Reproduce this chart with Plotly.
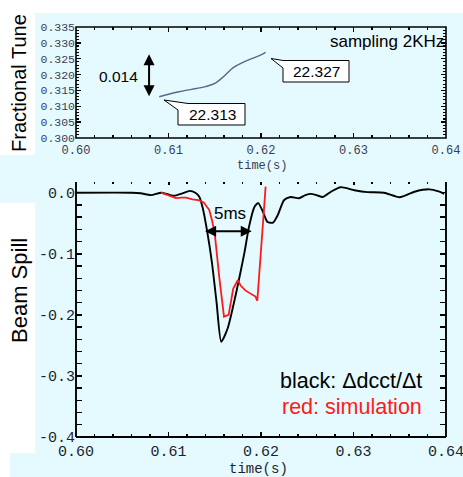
import plotly.graph_objects as go

# ---------------- data ----------------
tune_t = [0.6090, 0.6100, 0.6110, 0.6120, 0.6130, 0.6140, 0.6150, 0.6160,
          0.6170, 0.6180, 0.6190, 0.6200, 0.6205]
tune_v = [0.3130, 0.3138, 0.3145, 0.3151, 0.3156, 0.3162, 0.3172, 0.3195,
          0.3222, 0.3238, 0.3250, 0.3262, 0.3270]

spill_t = [0.6000, 0.6060, 0.6070, 0.6081, 0.6092, 0.6100, 0.6106, 0.6115,
           0.6123, 0.6129, 0.6133, 0.6137, 0.6142, 0.6147, 0.6152, 0.6157,
           0.6164, 0.6173, 0.6182, 0.6187, 0.6193, 0.6197, 0.6202, 0.6207,
           0.6213, 0.6218, 0.6225, 0.6232, 0.6241, 0.6248, 0.6254, 0.6260,
           0.6267, 0.6276, 0.6286, 0.6301, 0.6315, 0.6333, 0.6350, 0.6366,
           0.6382, 0.6392, 0.6398]
spill_v = [0.000, 0.000, -0.001, -0.004, 0.000, -0.003, -0.005, -0.001,
           0.003, 0.000, -0.006, -0.025, -0.065, -0.115, -0.180, -0.244,
           -0.222, -0.165, -0.099, -0.056, -0.023, -0.017, -0.031, -0.048,
           -0.049, -0.037, -0.012, -0.007, -0.009, -0.004, -0.002, -0.004,
           -0.007, 0.002, 0.009, 0.004, 0.001, 0.000, -0.0075, 0.0016,
           0.0055, 0.002, -0.002]

sim_t = [0.6092, 0.6100, 0.6108, 0.6114, 0.6119, 0.6126, 0.6132, 0.6138,
         0.6144, 0.6147, 0.6150, 0.6155, 0.6160, 0.6165, 0.6170, 0.6175,
         0.6178, 0.6183, 0.6189, 0.6194, 0.6196, 0.6200, 0.6205]
sim_v = [0.000, -0.004, -0.009, -0.008, -0.008, -0.011, -0.012, -0.016,
         -0.028, -0.045, -0.067, -0.140, -0.203, -0.200, -0.157, -0.143,
         -0.152, -0.160, -0.165, -0.170, -0.177, -0.090, 0.010]

x_ticks = [0.60, 0.61, 0.62, 0.63, 0.64]
x_ticklabels = ["0.60", "0.61", "0.62", "0.63", "0.64"]
tune_ticks = [0.300, 0.305, 0.310, 0.315, 0.320, 0.325, 0.330, 0.335]
tune_ticklabels = ["0.300", "0.305", "0.310", "0.315", "0.320", "0.325", "0.330", "0.335"]
spill_ticks = [0.0, -0.1, -0.2, -0.3, -0.4]
spill_ticklabels = ["0.0", "-0.1", "-0.2", "-0.3", "-0.4"]

tune_start_label = "22.313"
tune_end_label = "22.327"

# ---------------- layout helpers ----------------
W, H = 463, 477


def px(x):
    return x / W


def py(y):
    return 1 - y / H


CYAN = "#e4fafe"
MONO = "Liberation Mono, Courier New, monospace"
SANS = "Liberation Sans, Arial, sans-serif"

fig = go.Figure()

fig.add_trace(go.Scatter(x=tune_t, y=tune_v, mode="lines", xaxis="x", yaxis="y",
                         line=dict(color="#5a6688", width=1.4, shape="spline"),
                         hoverinfo="skip", showlegend=False))
fig.add_trace(go.Scatter(x=spill_t, y=spill_v, mode="lines", xaxis="x2", yaxis="y2",
                         line=dict(color="black", width=1.9, shape="spline", smoothing=0.6),
                         hoverinfo="skip", showlegend=False))
fig.add_trace(go.Scatter(x=sim_t, y=sim_v, mode="lines", xaxis="x2", yaxis="y2",
                         line=dict(color="#ff1a1a", width=1.8),
                         hoverinfo="skip", showlegend=False))
# carrier for top-edge ticks of lower panel
fig.add_trace(go.Scatter(x=[0.60], y=[-1], mode="markers", xaxis="x3", yaxis="y2",
                         marker=dict(size=0.1, color="rgba(0,0,0,0)"),
                         hoverinfo="skip", showlegend=False))

xdom = [px(76), px(446)]

common_x = dict(domain=xdom, range=[0.60, 0.64], tickvals=x_ticks, ticktext=x_ticklabels,
                ticks="inside", tickcolor="black", tickwidth=1.4, ticklen=5,
                showline=False, showgrid=False, automargin=False,
                ticklabeloverflow="allow", ticklabelstandoff=3,
                zeroline=False, fixedrange=True)

fig.update_layout(
    width=W, height=H,
    margin=dict(l=0, r=0, t=0, b=0, pad=0, autoexpand=False),
    paper_bgcolor="white", plot_bgcolor="rgba(0,0,0,0)",
    xaxis=dict(**common_x, anchor="y", mirror="allticks",
               tickfont=dict(family=MONO, size=12, color="#3a3d55"),
               minor=dict(dtick=0.002, ticks="inside", ticklen=3, tickcolor="black",
                          tickwidth=1.2, showgrid=False)),
    yaxis=dict(domain=[py(138), py(27)], range=[0.300, 0.335], anchor="x",
               tickvals=tune_ticks, ticktext=tune_ticklabels,
               ticks="inside", tickcolor="black", tickwidth=1.4, ticklen=5,
               showline=False, mirror="allticks", automargin=False,
               ticklabeloverflow="allow",
               showgrid=False, zeroline=False, fixedrange=True,
               tickfont=dict(family=MONO, size=11.5, color="#3a3d55"),
               minor=dict(dtick=0.001, ticks="inside", ticklen=3, tickcolor="black",
                          tickwidth=1.1, showgrid=False)),
    xaxis2=dict(**common_x, anchor="y2", mirror=False,
                tickfont=dict(family=MONO, size=15, color="#1e1e30"),
                minor=dict(dtick=0.002, ticks="inside", ticklen=3, tickcolor="black",
                           tickwidth=1.2, showgrid=False)),
    xaxis3=dict(domain=xdom, range=[0.60, 0.64], overlaying="x2", side="top",
                anchor="y2", tickvals=x_ticks, ticks="inside", ticklen=3,
                tickwidth=2, tickcolor="black", showticklabels=False, automargin=False,
                showline=False, showgrid=False, zeroline=False, fixedrange=True,
                minor=dict(dtick=0.002, ticks="inside", ticklen=2, tickcolor="black",
                           tickwidth=1.6, showgrid=False)),
    yaxis2=dict(domain=[py(437), py(182)], range=[-0.4, 0.0175], anchor="x2",
                tickvals=spill_ticks, ticktext=spill_ticklabels,
                ticks="inside", tickcolor="black", tickwidth=1.6, ticklen=6,
                showline=False, mirror="allticks", automargin=False,
                ticklabeloverflow="allow",
                showgrid=False, zeroline=False, fixedrange=True,
                tickfont=dict(family=MONO, size=15, color="#1e1e30"),
                minor=dict(dtick=0.02, ticks="inside", ticklen=4, tickcolor="black",
                           tickwidth=1.4, showgrid=False)),
)

# ---------------- background panels ----------------
bg_rects = [(35, 13, 463, 157), (0, 155, 463, 203), (35, 157, 463, 455), (10, 453, 463, 477)]
for x0, y0, x1, y1 in bg_rects:
    fig.add_shape(type="rect", xref="paper", yref="paper", layer="below",
                  x0=px(x0), x1=px(x1), y0=py(y1), y1=py(y0),
                  fillcolor=CYAN, line=dict(width=0))

# ---------------- frames ----------------
fig.add_shape(type="rect", xref="x domain", yref="y domain", x0=0, x1=1, y0=0, y1=1,
              line=dict(color="black", width=1.6), fillcolor="rgba(0,0,0,0)")
for x0, y0, x1, y1 in [(0, 0, 0, 1), (1, 0, 1, 1), (0, 0, 1, 0)]:
    fig.add_shape(type="line", xref="x2 domain", yref="y2 domain",
                  x0=x0, x1=x1, y0=y0, y1=y1, line=dict(color="black", width=1.9))


# ---------------- callout boxes ----------------
def callout(points):
    d = "M " + " L ".join(f"{px(a):.5f},{py(b):.5f}" for a, b in points) + " Z"
    fig.add_shape(type="path", xref="paper", yref="paper", path=d,
                  fillcolor="white", line=dict(color="black", width=1))


callout([(164, 100), (188, 103.5), (245, 103.5), (245, 125), (178, 125), (178, 110)])
callout([(271, 58.5), (283, 60.5), (349, 60.5), (349, 82), (283, 82), (283, 68)])


def text(s, x, y, size, color="black", family=SANS, xanchor="center", angle=0):
    fig.add_annotation(text=s, x=px(x), y=py(y), xref="paper", yref="paper",
                       showarrow=False, xanchor=xanchor, yanchor="middle",
                       textangle=angle, font=dict(family=family, size=size, color=color))


text("Fractional Tune", 19, 83, 20, angle=-90)
text("Beam Spill", 19, 291, 22, angle=-90)
text("time(s)", 262, 166, 12, color="#3a3d55", family=MONO)
text("time(s)", 258, 468.5, 14, color="#1e1e30", family=MONO)
text("sampling 2KHz", 446, 42, 17, xanchor="right")
text("0.014", 118, 76, 15.5)
text(tune_start_label, 212, 114.5, 15.5)
text(tune_end_label, 316, 71.5, 15.5)
text("5ms", 230, 213, 17)
text("black: \u0394dcct/\u0394t", 424, 381, 21.5, xanchor="right")
text("red: simulation", 424, 407, 21.5, color="#ff1a1a", xanchor="right")

# ---------------- double arrows ----------------
fig.add_annotation(x=0.6079, y=0.3264, ax=0.6079, ay=0.3127, xref="x", yref="y",
                   axref="x", ayref="y", text="", showarrow=True, arrowside="end+start",
                   arrowhead=2, arrowsize=1.1, arrowwidth=2, arrowcolor="black", standoff=0,
                   startstandoff=0)
fig.add_annotation(x=0.6190, y=-0.063, ax=0.6138, ay=-0.063, xref="x2", yref="y2",
                   axref="x2", ayref="y2", text="", showarrow=True, arrowside="end+start",
                   arrowhead=2, arrowsize=1.1, arrowwidth=2, arrowcolor="black", standoff=0,
                   startstandoff=0)

fig.write_html("out.html", config={"displayModeBar": False, "staticPlot": True},
               post_script="document.body.style.margin='0';document.body.style.overflow='hidden';")
